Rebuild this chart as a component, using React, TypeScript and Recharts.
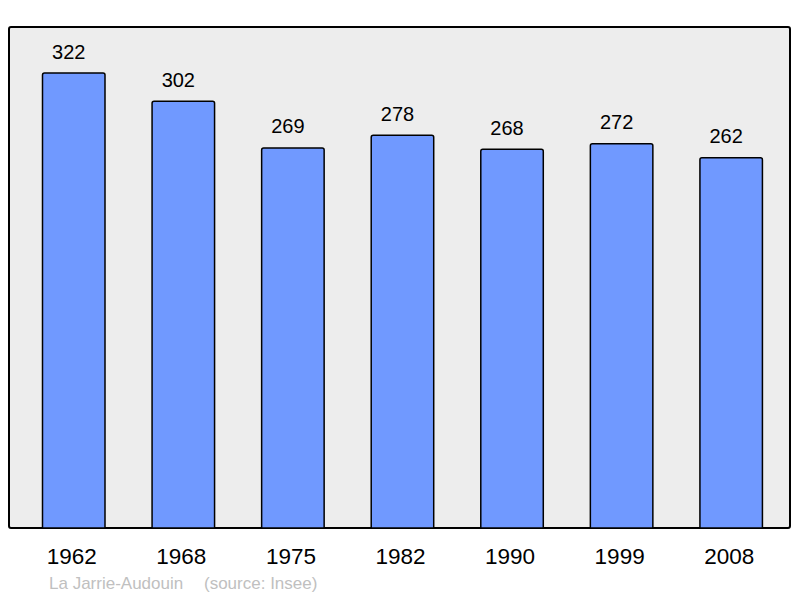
import React from "react";
import { BarChart, Bar, XAxis, YAxis, LabelList } from "recharts";

const years = ["1962", "1968", "1975", "1982", "1990", "1999", "2008"];
const population = [322, 302, 269, 278, 268, 272, 262];
const place = "La Jarrie-Audouin";
const source = "(source: Insee)";

const data = years.map((year, i) => ({ year, value: population[i] }));

const FONT = "'Liberation Sans', Arial, sans-serif";

const ValueLabel = (props: any) => {
  const { x, y, width, value } = props;
  return (
    <text
      x={x + width / 2 - 5}
      y={y - 14.5}
      textAnchor="middle"
      fontSize={20}
      fontFamily={FONT}
      fill="#000"
    >
      {value}
    </text>
  );
};

const YearTick = (props: any) => {
  const { x, y, payload } = props;
  return (
    <text
      x={x - 1.5}
      y={y + 28}
      textAnchor="middle"
      fontSize={22.5}
      fontFamily={FONT}
      fill="#000"
    >
      {payload.value}
    </text>
  );
};

const App = () => {
  return (
    <div
      style={{
        position: "absolute",
        left: 0,
        top: 0,
        width: 800,
        height: 598,
        background: "#fff",
      }}
    >
      <div
        style={{
          position: "absolute",
          left: 8,
          top: 26,
          width: 779,
          height: 499,
          background: "#ededed",
          border: "2px solid #000",
          borderRadius: 3,
        }}
      />
      <div style={{ position: "absolute", left: 0, top: 0 }}>
        <BarChart
          width={800}
          height={598}
          data={data}
          margin={{ top: 27, left: 9, right: 10, bottom: 40 }}
        >
          <XAxis
            dataKey="year"
            axisLine={false}
            tickLine={false}
            height={30}
            padding={{ left: 9.5, right: 4.5 }}
            tick={<YearTick />}
            interval={0}
          />
          <YAxis hide domain={[0, 354.6]} />
          <Bar
            dataKey="value"
            fill="#7099ff"
            stroke="#000"
            strokeWidth={1.5}
            barSize={62.5}
            radius={[2, 2, 0, 0]}
            isAnimationActive={false}
          >
            <LabelList dataKey="value" content={<ValueLabel />} />
          </Bar>
        </BarChart>
      </div>
      <div
        style={{
          position: "absolute",
          left: 49,
          top: 574,
          fontFamily: FONT,
          fontSize: 17,
          color: "#c0c0c0",
          whiteSpace: "pre",
          lineHeight: "20px",
        }}
      >
        {place}
        <span style={{ position: "absolute", left: 155 }}>{source}</span>
      </div>
    </div>
  );
};

export default App;
